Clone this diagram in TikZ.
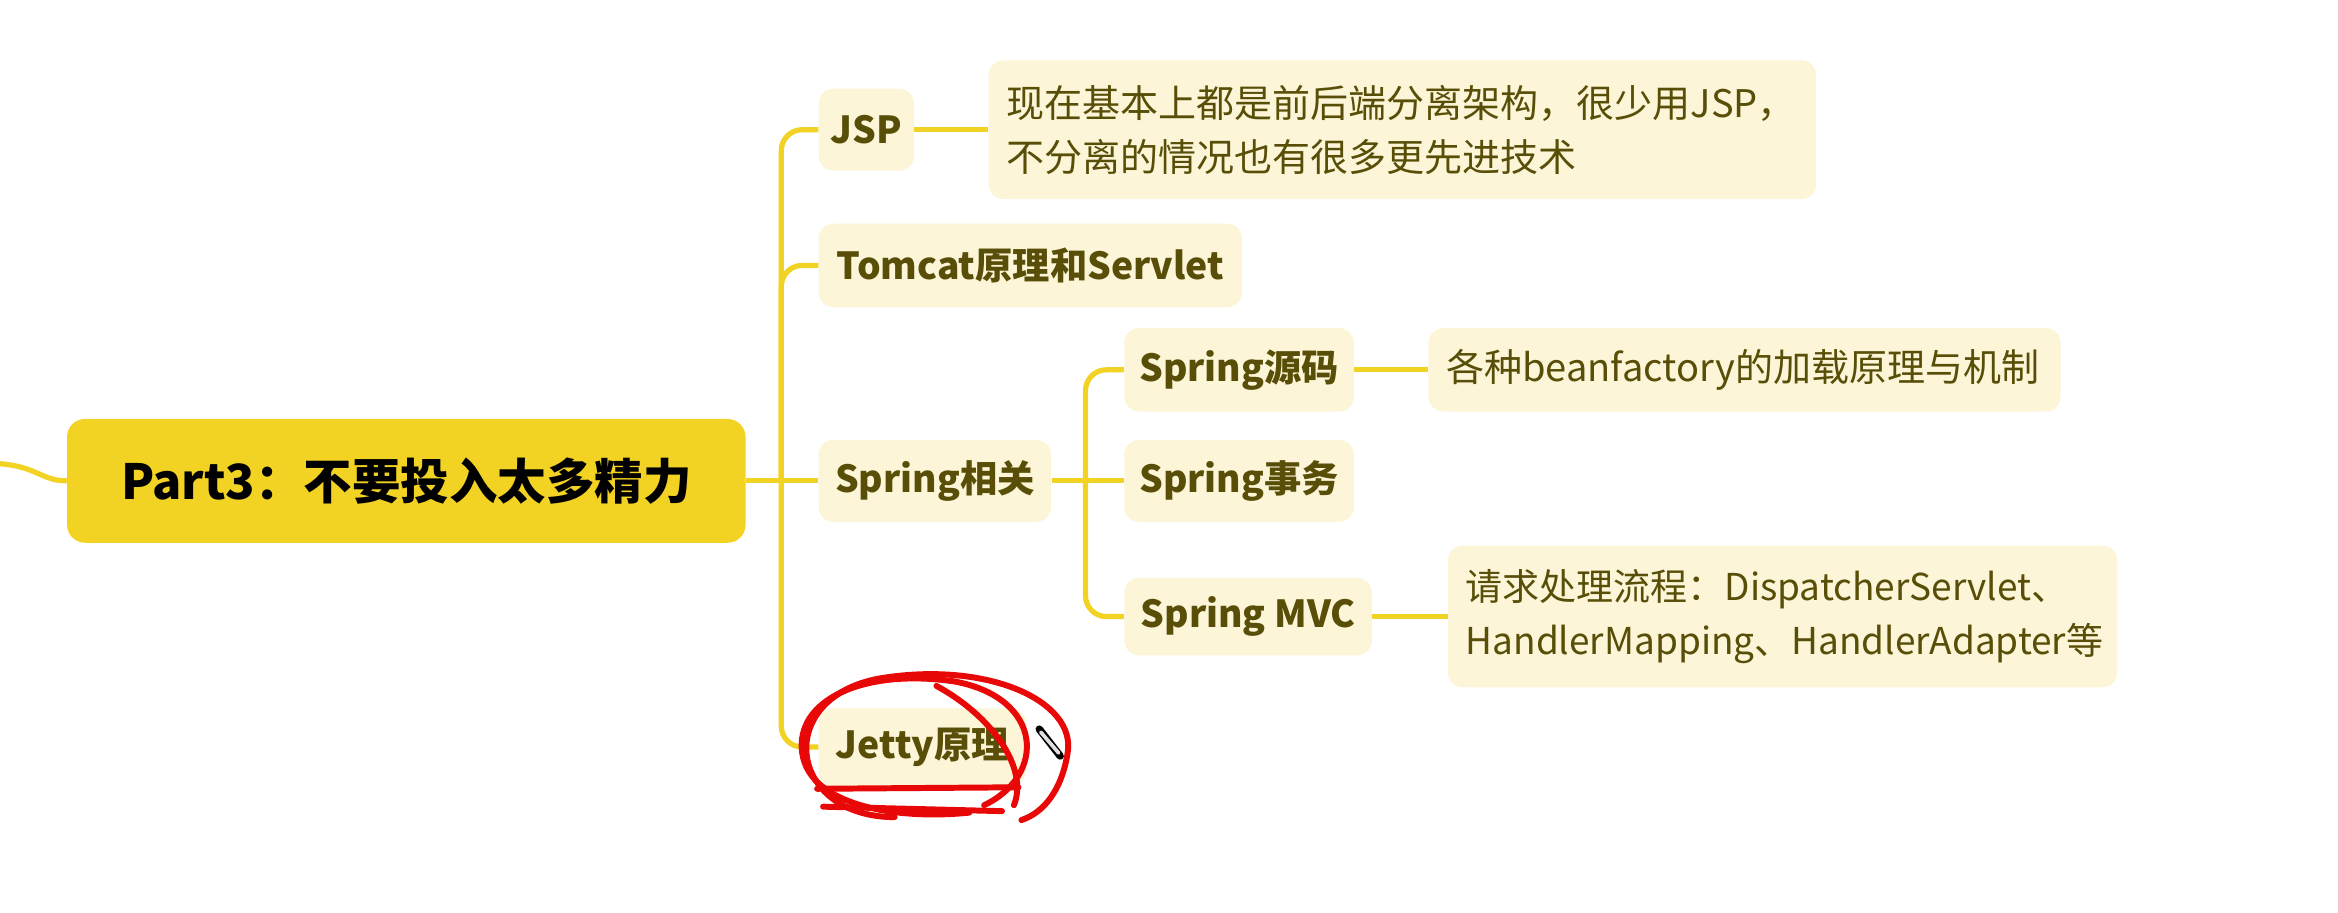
\documentclass[tikz,border=0pt]{standalone}
\usepackage{fontspec}
\setmainfont{Noto Sans CJK SC}
\definecolor{trunk}{RGB}{242,210,35}
\definecolor{cream}{RGB}{252,245,215}
\definecolor{olive}{RGB}{88,78,8}
\definecolor{scrib}{RGB}{232,8,8}
\begin{document}
\begin{tikzpicture}[x=1pt,y=-1pt,
 conn/.style={draw=trunk, line width=3.5pt},
 rootbox/.style={fill=trunk, rounded corners=12pt, minimum width=455pt, minimum height=83pt, inner sep=0pt, font=\fontsize{32.5}{38}\selectfont\bfseries, text=black},
 lvl/.style={fill=cream, rounded corners=10pt, minimum height=55pt, inner sep=0pt, font=\fontsize{25}{30}\selectfont\bfseries, text=olive},
 desc/.style={fill=cream, rounded corners=10pt, inner xsep=12pt, inner ysep=0pt, align=left, font=\fontsize{25.5}{36}\selectfont, text=olive},
 scribble/.style={draw=scrib, line width=4pt, line cap=round, line join=round}]
\useasboundingbox (0,0) rectangle (1568,612);
% nodes
\node[rootbox] (root) at (272.5,322.5) {Part3：不要投入太多精力};
\node[lvl, minimum width=64pt] (jsp) at (581,87) {JSP};
\node[lvl, minimum width=284pt, minimum height=56pt] (tom) at (691,178) {Tomcat原理和Servlet};
\node[lvl, minimum width=156pt] (spr) at (627,322.5) {Spring相关};
\node[lvl, minimum width=139pt, minimum height=52pt] (jet) at (618.5,501) {Jetty原理};
\node[desc, text width=531pt, minimum height=93pt] (jspd) at (940.5,87) {现在基本上都是前后端分离架构，很少用JSP，\\不分离的情况也有很多更先进技术};
\node[lvl, minimum width=154pt, minimum height=56pt] (src) at (831,248) {Spring源码};
\node[lvl, minimum width=154pt] (tx) at (831,322.5) {Spring事务};
\node[lvl, minimum width=166pt, minimum height=52pt] (mvc) at (837,413.5) {Spring MVC};
\node[desc, text width=400pt, minimum height=56pt] (srcd) at (1170,248) {各种beanfactory的加载原理与机制};
\node[desc, text width=425pt, minimum height=95pt, font=\fontsize{24.8}{36}\selectfont] (mvcd) at (1195.5,413.5) {请求处理流程：DispatcherServlet、\\HandlerMapping、HandlerAdapter等};
% connectors
\coordinate (j1) at (524,322.5);
\coordinate (j2) at (728,322.5);
\coordinate (src0) at (0,311);
\draw[conn] (src0) .. controls (25,313) and (28,322.5) .. (root.west);
\draw[conn] (root.east) -- (spr.west);
\draw[conn, rounded corners=14pt] (j1) |- (jsp.west);
\draw[conn, rounded corners=14pt] (j1) |- (tom.west);
\draw[conn, rounded corners=14pt] (j1) |- (jet.west);
\draw[conn] (spr.east) -- (tx.west);
\draw[conn, rounded corners=14pt] (j2) |- (src.west);
\draw[conn, rounded corners=14pt] (j2) |- (mvc.west);
\draw[conn] (jsp.east) -- (jspd.west);
\draw[conn] (src.east) -- (srcd.west);
\draw[conn] (mvc.east) -- (mvcd.west);
% red hand-drawn annotation
\draw[scribble] (600,548) .. controls (528,548) and (518,468) .. (590,455) .. controls (662,443) and (722,470) .. (716,505) .. controls (712,530) and (700,545) .. (685,550);
\draw[scribble] (660,540) .. controls (702,520) and (700,468) .. (640,457) .. controls (578,448) and (533,470) .. (538,505) .. controls (543,540) and (600,550) .. (650,545);
\draw[scribble] (628,460) .. controls (665,480) and (690,515) .. (680,540);
\draw[scribble] (548,529) -- (683,528);
\draw[scribble] (552,541) -- (672,544);
% pen cursor
\draw[line width=5pt, black, line cap=round] (697,489) -- (711,507);
\draw[line width=2.5pt, gray!25, line cap=round] (698,491) -- (710,505);
\end{tikzpicture}
\end{document}
